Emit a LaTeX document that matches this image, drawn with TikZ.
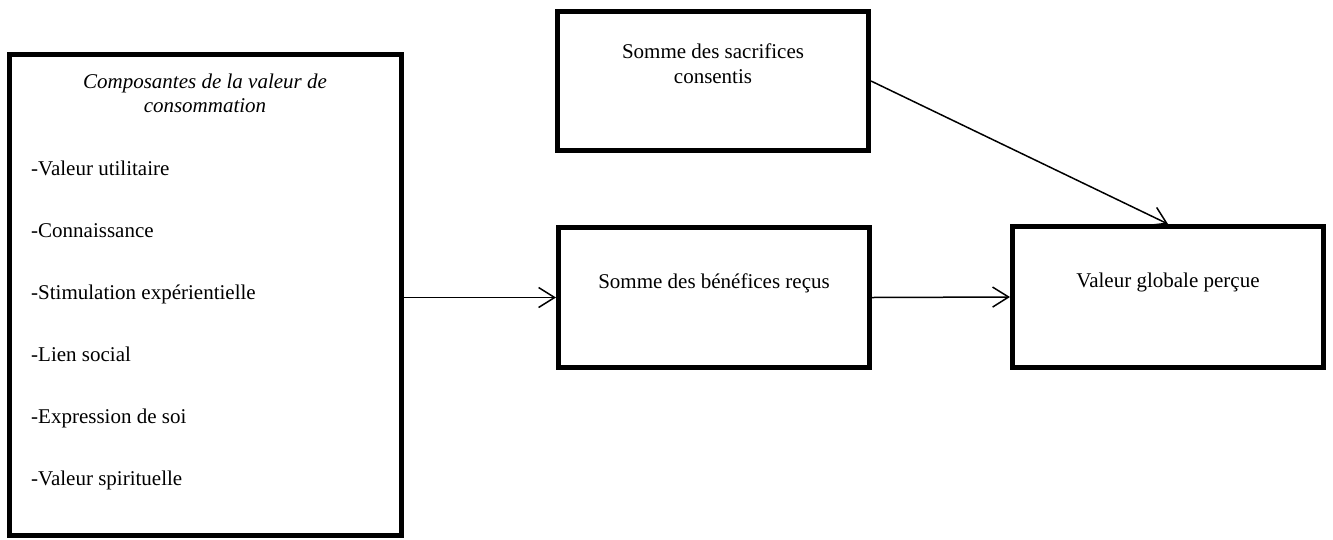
\documentclass[tikz,border=0pt]{standalone}
\usepackage{fontspec}
\setmainfont{Liberation Serif}
\usetikzlibrary{positioning}
\usetikzlibrary{arrows.meta}

\begin{document}
\begin{tikzpicture}[x=1pt,y=-1pt,
	bigbox/.style={rectangle, draw=black, line width=5pt, inner sep=0pt},
	txt/.style={inner sep=0pt, align=center, font=\fontsize{21}{24.5}\selectfont},
	ittxt/.style={txt, font=\fontsize{21}{24.5}\selectfont\itshape},
	item/.style={inner sep=0pt, anchor=base west, font=\fontsize{21}{24.5}\selectfont},
	arr/.style={line width=1.5pt, -{Straight Barb[length=16pt,width=20pt,line width=1.5pt]}}]
	\useasboundingbox (0,0) rectangle (1333,539);
	\node[bigbox, minimum width=392pt, minimum height=481pt] (comp) at (205.5,295) {};
	\node[bigbox, minimum width=311pt, minimum height=139pt] (sacr) at (713,81) {};
	\node[bigbox, minimum width=311pt, minimum height=140pt] (bene) at (714,297.5) {};
	\node[bigbox, minimum width=311pt, minimum height=141pt] (valr) at (1168,297) {};
	\node[ittxt, anchor=north] (compt) at (205,73.5) {Composantes de la valeur de\\consommation};
	\foreach \lbl [count=\i] in {Valeur utilitaire, Connaissance, Stimulation expérientielle, Lien social, Expression de soi, Valeur spirituelle}
		\node[item] (it\i) at (31,113+62*\i) {-\lbl};
	\node[txt, anchor=north] (sacrt) at (713,43.7) {Somme des sacrifices\\consentis};
	\node[txt, anchor=base] (benet) at (714,288) {Somme des bénéfices reçus};
	\node[txt, anchor=base] (valrt) at (1168,287) {Valeur globale perçue};
	\draw[arr] (comp.east |- bene.west) -- (bene.west);
	\draw[arr] (bene.east) -- (valr.west);
	\draw[arr] (sacr.east) -- (valr.north);
\end{tikzpicture}
\end{document}
